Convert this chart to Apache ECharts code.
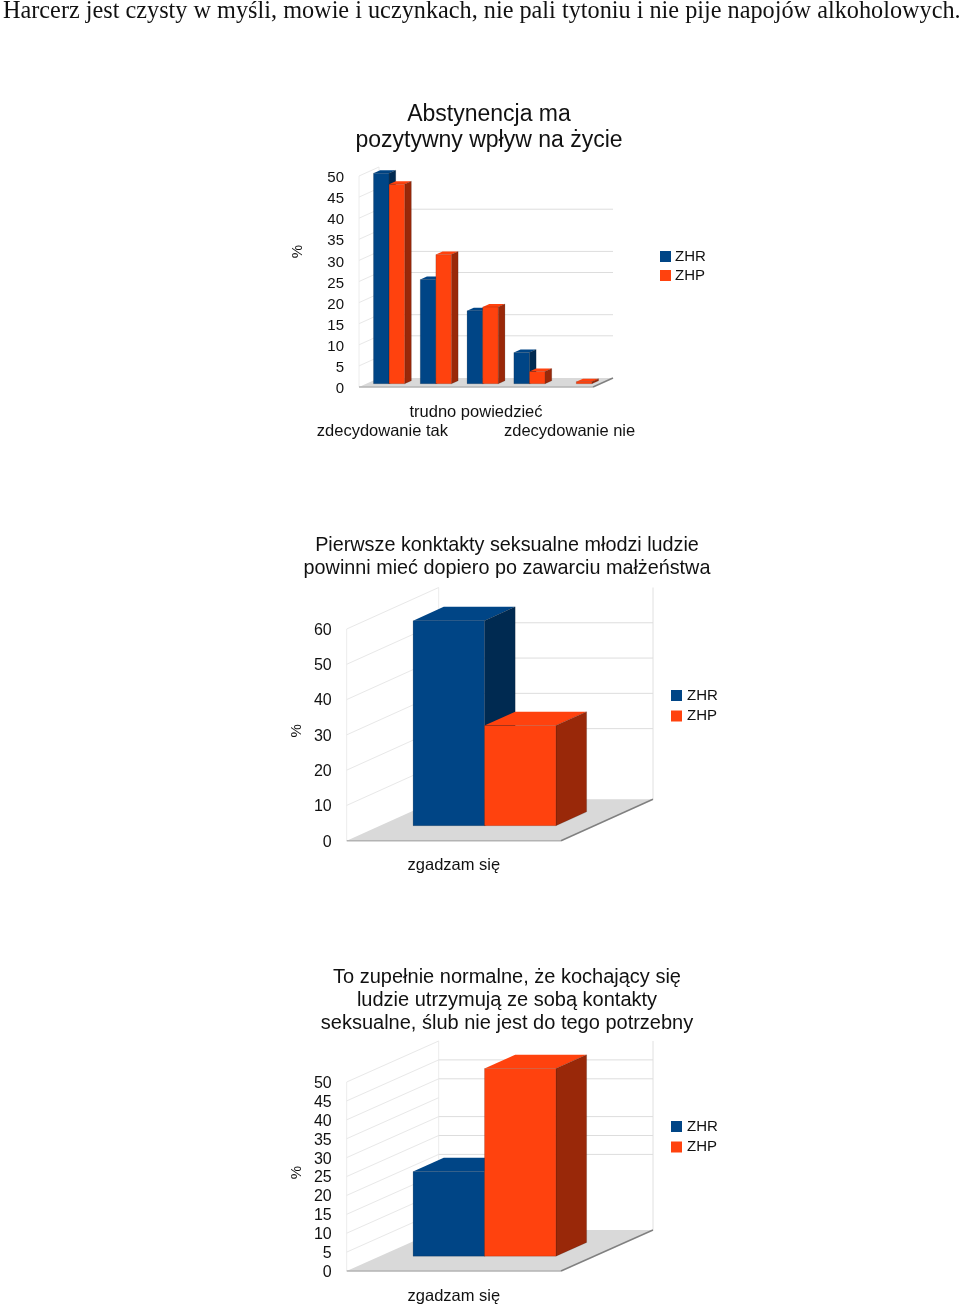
<!DOCTYPE html>
<html><head><meta charset="utf-8">
<style>html,body{margin:0;padding:0;background:#fff}#c{width:960px;height:1306px}</style>
<script src="https://cdn.jsdelivr.net/npm/echarts@6/dist/echarts.min.js"></script>
</head><body><div id="c"></div>
<script>
const heading = 'Harcerz jest czysty w myśli, mowie i uczynkach, nie pali tytoniu i nie pije napojów alkoholowych.';

const title1 = 'Abstynencja ma\npozytywny wpływ na życie';
const categories1 = ['zdecydowanie tak', '', 'trudno powiedzieć', '', 'zdecydowanie nie'];
const zhr1 = [49.9, 24.7, 17.3, 7.4, 0];
const zhp1 = [47.3, 30.6, 18.2, 2.9, 0.5];
const backGrid1 = [10, 15, 25, 30, 40];
const wallGrid1 = [5, 10, 15, 20, 25, 30, 35, 40, 45, 50];

const title2 = 'Pierwsze konktakty seksualne młodzi ludzie\npowinni mieć dopiero po zawarciu małżeństwa';
const categories2 = ['zgadzam się'];
const zhr2 = [58.1];
const zhp2 = [28.4];
const backGrid2 = [20, 30, 40, 50];
const wallGrid2 = [10, 20, 30, 40, 50, 60];

const title3 = 'To zupełnie normalne, że kochający się\nludzie utrzymują ze sobą kontakty\nseksualne, ślub nie jest do tego potrzebny';
const categories3 = ['zgadzam się'];
const zhr3 = [22.4];
const zhp3 = [49.65];
const backGrid3 = [20, 25, 30, 40, 45];
const wallGrid3 = [5, 10, 15, 20, 25, 30, 35, 40, 45, 50];

const legendNames = ['ZHR', 'ZHP'];
const FONT = '"Liberation Sans", Arial, sans-serif';
const TXT = '#111';
const COL = { ZHR: ['#004586', '#002a51'], ZHP: ['#ff420e', '#992809'] };

const layouts = [
  { left: 359, right: 593, top: 176, bottom: 387, dx: 20, dy: -9, max: 50, step: 5, nameGap: 54, namePad: 60, labelShift: 2, labelSize: 15, xMargin: 16, legendLeft: 660, legendTop: 249, legendGap: 4, legendPad: -1, rightWall: false },
  { left: 346.7, right: 561, top: 629, bottom: 840.7, dx: 92, dy: -41.5, max: 60, step: 10, nameGap: 42, namePad: 8, labelShift: 1.5, labelSize: 16, xMargin: 15, legendLeft: 671, legendTop: 688, legendGap: 5.5, legendPad: 0, rightWall: true },
  { left: 346.7, right: 561, top: 1082, bottom: 1271, dx: 92, dy: -41, max: 50, step: 5, nameGap: 42, namePad: 8, labelShift: 1.5, labelSize: 16, xMargin: 16, legendLeft: 671, legendTop: 1119, legendGap: 5.5, legendPad: 0, rightWall: true }
];
const sets = [
  { cats: categories1, zhr: zhr1, zhp: zhp1, back: backGrid1, wall: wallGrid1 },
  { cats: categories2, zhr: zhr2, zhp: zhp2, back: backGrid2, wall: wallGrid2 },
  { cats: categories3, zhr: zhr3, zhp: zhp3, back: backGrid3, wall: wallGrid3 }
];

function poly(points, fill, stroke, lw) {
  return { type: 'polygon', shape: { points }, style: { fill, stroke: stroke || null, lineWidth: lw === undefined ? 0.5 : lw } };
}
function line(x1, y1, x2, y2, stroke, lw) {
  return { type: 'line', shape: { x1, y1, x2, y2 }, style: { stroke, lineWidth: lw || 1, fill: null } };
}

function frameRender(L, S) {
  return function (params, api) {
    const cs = params.coordSys;
    const x0 = cs.x, x1 = cs.x + cs.width, y0 = cs.y + cs.height;
    const top = cs.y;
    const dx = L.dx, dy = L.dy;
    const wallC = '#ececec', diagC = '#e8e8e8', gridC = '#dddddd';
    const ch = [];
    ch.push(line(x0, y0, x0, top, wallC));
    ch.push(line(x0 + dx, y0 + dy, x0 + dx, top + dy, wallC));
    if (L.rightWall) ch.push(line(x1 + dx, y0 + dy, x1 + dx, top + dy, '#e0e0e0'));
    S.wall.forEach(v => {
      const y = api.coord([0, v])[1];
      ch.push(line(x0, y, x0 + dx, y + dy, diagC));
    });
    S.back.forEach(v => {
      const y = api.coord([0, v])[1] + dy;
      ch.push(line(x0 + dx, y, x1 + dx, y, gridC));
    });
    ch.push(poly([[x0, y0], [x1, y0], [x1 + dx, y0 + dy], [x0 + dx, y0 + dy]], '#d9d9d9', null, 0));
    ch.push(line(x0, y0, x1, y0, '#b3b3b3', 1.5));
    ch.push(line(x1, y0, x1 + dx, y0 + dy, '#808080', 1.5));
    return { type: 'group', children: ch };
  };
}

function barRender(L, idx, name) {
  return function (params, api) {
    const v = api.value(1);
    if (!v) return null;
    const p = api.coord([api.value(0), v]);
    const base = api.coord([api.value(0), 0]);
    const band = api.size([1, 0])[0];
    const w = band / 3;
    const ox = L.dx / 3, oy = L.dy * 15 / 41.5;
    const sx = L.dx / 3, sy = L.dy / 3;
    const xl = p[0] - w + idx * w + ox, xr = xl + w;
    const yt = p[1] + oy, yb = base[1] + oy;
    const c = COL[name];
    const edge = 'rgba(0,0,0,0.3)';
    return { type: 'group', children: [
      poly([[xl, yt], [xr, yt], [xr + sx, yt + sy], [xl + sx, yt + sy]], c[0], null, 0),
      poly([[xr, yt], [xr + sx, yt + sy], [xr + sx, yb + sy], [xr, yb]], c[1], edge),
      poly([[xl, yt], [xr, yt], [xr, yb], [xl, yb]], c[0], edge)
    ] };
  };
}

const grid = [], xAxis = [], yAxis = [], series = [], legend = [];
layouts.forEach((L, i) => {
  const S = sets[i];
  grid.push({ left: L.left, top: L.top, width: L.right - L.left, height: L.bottom - L.top });
  xAxis.push({
    type: 'category', gridIndex: i, data: S.cats,
    axisLine: { show: false }, axisTick: { show: false }, splitLine: { show: false },
    axisLabel: {
      interval: 0, margin: L.xMargin, fontFamily: FONT, fontSize: 16.5, color: TXT, lineHeight: 19, verticalAlign: 'top',
      formatter: (val, k) => (i === 0 && k !== 2 ? '\n' + val : val)
    }
  });
  yAxis.push({
    type: 'value', gridIndex: i, min: 0, max: L.max, interval: L.step,
    name: '%', nameLocation: 'middle', nameGap: L.nameGap, nameRotate: 90,
    nameTextStyle: { fontFamily: FONT, fontSize: 15, color: TXT, padding: [0, 0, 0, L.namePad] },
    axisLine: { show: false }, axisTick: { show: false }, splitLine: { show: false },
    axisLabel: { margin: 15, fontFamily: FONT, fontSize: L.labelSize, color: TXT, verticalAlign: 'top', lineHeight: 2 * L.labelShift }
  });
  series.push({
    type: 'custom', name: 'frame' + i, xAxisIndex: i, yAxisIndex: i, silent: true, clip: false, z: 1,
    data: [[0, 0]], encode: { x: 0, y: 1 }, renderItem: frameRender(L, S)
  });
  [S.zhr, S.zhp].forEach((vals, k) => {
    const name = legendNames[k];
    series.push({
      type: 'custom', name, xAxisIndex: i, yAxisIndex: i, clip: false, z: 2 + k, silent: true,
      itemStyle: { color: COL[name][0] },
      data: vals.map((v, j) => [j, v]), encode: { x: 0, y: 1 }, renderItem: barRender(L, k, name)
    });
  });
  legend.push({
    data: legendNames, orient: 'vertical', left: L.legendLeft, top: L.legendTop, padding: 0,
    icon: 'rect', itemWidth: 11, itemHeight: 11, itemGap: L.legendGap, selectedMode: false,
    textStyle: { fontFamily: FONT, fontSize: 15, color: TXT, padding: [0, 0, 0, L.legendPad] }
  });
});

const title = [
  { text: heading, left: 3, top: 0, padding: 0, textStyle: { fontFamily: '"Liberation Serif", serif', fontSize: 24.25, fontWeight: 'normal', color: '#111' } },
  { text: title1, left: 489, top: 102, padding: 0, textAlign: 'center', textStyle: { fontFamily: FONT, fontSize: 23, fontWeight: 'normal', color: TXT, lineHeight: 26 } },
  { text: title2, left: 507, top: 534, padding: 0, textAlign: 'center', textStyle: { fontFamily: FONT, fontSize: 19.8, fontWeight: 'normal', color: TXT, lineHeight: 23 } },
  { text: title3, left: 507, top: 966, padding: 0, textAlign: 'center', textStyle: { fontFamily: FONT, fontSize: 20, fontWeight: 'normal', color: TXT, lineHeight: 23 } }
];

const chart = echarts.init(document.getElementById('c'), null, { renderer: 'canvas' });
chart.setOption({ animation: false, backgroundColor: '#fff', title, grid, xAxis, yAxis, series, legend, tooltip: { show: false } });
</script></body></html>
